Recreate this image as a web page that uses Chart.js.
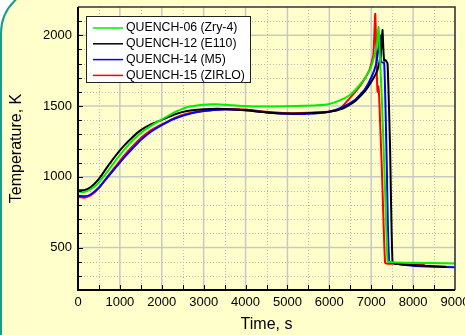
<!DOCTYPE html>
<html>
<head>
<meta charset="utf-8">
<script src="https://cdn.jsdelivr.net/npm/chart.js@4.4.0/dist/chart.umd.min.js"></script>
<style>
  html, body { margin: 0; padding: 0; width: 465px; height: 335px; overflow: hidden; background: #fff; }
  #frame { position: absolute; left: 0; top: -13px; width: 560px; height: 420px; box-sizing: border-box;
           border: 2px solid #1a9c8c; border-radius: 46px; background: #ffffcc; }
  #wrap { position: absolute; left: 0; top: 0; width: 475px; height: 335px; }
</style>
</head>
<body>
<div id="frame"></div>
<div id="wrap"><canvas id="chart" width="475" height="335"></canvas></div>
<script>
// axis ticks
var timeTicks = [0, 1000, 2000, 3000, 4000, 5000, 6000, 7000, 8000, 9000];
var tempTicks = [500, 1000, 1500, 2000];

// QUENCH-06 (Zry-4)
var q06Time = [0, 150, 300, 500, 700, 900, 1100, 1300, 1500, 1750, 2000, 2300, 2600, 3000, 3300, 3700, 4200, 4700, 5200, 5700, 6000, 6250, 6500, 6700, 6900, 7000, 7080, 7140, 7175, 7200, 7215, 7250, 7320, 7390, 7450, 7600, 8000, 8500, 9000];
var q06Temp = [895, 893, 912, 960, 1035, 1115, 1190, 1255, 1310, 1362, 1405, 1455, 1492, 1510, 1512, 1505, 1497, 1497, 1500, 1505, 1515, 1540, 1580, 1640, 1720, 1780, 1860, 1950, 2058, 1900, 1800, 1580, 1000, 400, 398, 394, 392, 390, 388];

// QUENCH-12 (E110)
var q12Time = [0, 150, 300, 500, 700, 900, 1100, 1300, 1500, 1750, 2000, 2300, 2600, 3000, 3500, 4000, 4500, 5000, 5500, 6000, 6300, 6600, 6850, 7050, 7150, 7220, 7250, 7270, 7290, 7310, 7340, 7390, 7450, 7508, 7600, 8000, 8500, 8800];
var q12Temp = [905, 905, 925, 985, 1070, 1150, 1220, 1280, 1330, 1372, 1402, 1440, 1465, 1478, 1480, 1470, 1455, 1448, 1450, 1460, 1480, 1530, 1605, 1695, 1755, 1850, 1950, 2037, 1900, 1820, 1825, 1800, 1200, 400, 385, 375, 368, 365];

// QUENCH-14 (M5)
var q14Time = [0, 150, 300, 500, 700, 900, 1100, 1300, 1500, 1750, 2000, 2300, 2600, 3000, 3500, 4000, 4500, 5000, 5500, 6000, 6300, 6600, 6850, 7000, 7111, 7170, 7206, 7230, 7310, 7370, 7430, 7600, 8000, 8500, 9000];
var q14Temp = [868, 862, 875, 925, 995, 1065, 1135, 1200, 1260, 1320, 1365, 1410, 1440, 1465, 1475, 1470, 1455, 1445, 1445, 1460, 1490, 1540, 1620, 1700, 1790, 1900, 2000, 1810, 1805, 1100, 400, 385, 372, 365, 360];

// QUENCH-15 (ZIRLO)
var q15Time = [0, 150, 300, 500, 700, 900, 1100, 1300, 1500, 1750, 2000, 2300, 2600, 3000, 3500, 4000, 4500, 5000, 5500, 6000, 6250, 6500, 6750, 6950, 7050, 7095, 7120, 7140, 7155, 7170, 7190, 7260, 7330, 7400, 7500, 8000, 8280];
var q15Temp = [858, 852, 868, 920, 1000, 1075, 1150, 1215, 1275, 1330, 1370, 1415, 1445, 1465, 1478, 1475, 1460, 1450, 1452, 1462, 1480, 1560, 1650, 1750, 1860, 2153, 1900, 1660, 1600, 1640, 1560, 1000, 395, 385, 385, 380, 375];

var seriesNames = ['QUENCH-06 (Zry-4)', 'QUENCH-12 (E110)', 'QUENCH-14 (M5)', 'QUENCH-15 (ZIRLO)'];
var seriesColors = ['#00ee00', '#000000', '#0000ff', '#ff0000'];

function toPoints(xs, ys) {
    return xs.map(function(t, i) { return { x: t, y: ys[i] }; });
}

Chart.defaults.font.family = "'Liberation Sans', Arial, sans-serif";
Chart.defaults.color = '#000';

// grid lines: dotted minor, solid major
var gridPlugin = {
    id: 'gridLines',
    beforeDatasetsDraw: function(chart) {
        var ctx = chart.ctx, a = chart.chartArea, x = chart.scales.x, y = chart.scales.y;
        ctx.save();
        ctx.lineWidth = 1;
        ctx.strokeStyle = '#b8b8b8';
        ctx.setLineDash([1, 2]);
        for (var v = 500; v < 9000; v += 1000) {
            var px = Math.round(x.getPixelForValue(v)) + 0.5;
            ctx.beginPath(); ctx.moveTo(px, a.top); ctx.lineTo(px, a.bottom); ctx.stroke();
        }
        for (var w = 300; w < 2200; w += 100) {
            if (w % 500 === 0) continue;
            var py = Math.round(y.getPixelForValue(w)) + 0.5;
            ctx.beginPath(); ctx.moveTo(a.left, py); ctx.lineTo(a.right, py); ctx.stroke();
        }
        ctx.setLineDash([]);
        ctx.strokeStyle = '#c8c8c8';
        ctx.lineWidth = 1.5;
        timeTicks.forEach(function(v) {
            var px = x.getPixelForValue(v);
            ctx.beginPath(); ctx.moveTo(px, a.top); ctx.lineTo(px, a.bottom); ctx.stroke();
        });
        tempTicks.forEach(function(v) {
            var py = y.getPixelForValue(v);
            ctx.beginPath(); ctx.moveTo(a.left, py); ctx.lineTo(a.right, py); ctx.stroke();
        });
        ctx.restore();
    },
    afterDatasetsDraw: function(chart) {
        var ctx = chart.ctx, a = chart.chartArea, x = chart.scales.x, y = chart.scales.y;
        ctx.save();
        // top / right border
        ctx.strokeStyle = '#333';
        ctx.lineWidth = 1.5;
        ctx.beginPath(); ctx.moveTo(a.left, a.top); ctx.lineTo(a.right, a.top); ctx.lineTo(a.right, a.bottom); ctx.stroke();
        // inward ticks
        ctx.strokeStyle = '#000';
        ctx.lineWidth = 1;
        for (var v = 500; v < 9000; v += 500) {
            var px = Math.round(x.getPixelForValue(v)) + 0.5;
            ctx.beginPath(); ctx.moveTo(px, a.bottom); ctx.lineTo(px, a.bottom - 5); ctx.stroke();
        }
        for (var w = 300; w < 2200; w += 100) {
            var py = Math.round(y.getPixelForValue(w)) + 0.5;
            ctx.beginPath(); ctx.moveTo(a.left, py); ctx.lineTo(a.left + (w % 500 === 0 ? 5 : 4), py); ctx.stroke();
        }
        // left / bottom axes
        ctx.lineWidth = 2;
        ctx.beginPath(); ctx.moveTo(a.left, a.top); ctx.lineTo(a.left, a.bottom); ctx.lineTo(a.right, a.bottom); ctx.stroke();
        ctx.restore();
    }
};

// boxed legend inside plot area
var boxLegend = {
    id: 'boxLegend',
    afterDraw: function(chart) {
        var ctx = chart.ctx, a = chart.chartArea;
        var bx = a.left + 8, by = a.top + 9;
        ctx.save();
        ctx.fillStyle = '#fff';
        ctx.fillRect(bx, by, 165, 67);
        ctx.strokeStyle = '#222';
        ctx.lineWidth = 1;
        ctx.strokeRect(bx + 0.5, by + 0.5, 164, 66);
        ctx.font = "12.3px 'Liberation Sans', Arial, sans-serif";
        ctx.textBaseline = 'middle';
        chart.data.datasets.forEach(function(ds, i) {
            var ly = by + 12 + i * 15.8;
            ctx.strokeStyle = ds.borderColor;
            ctx.lineWidth = 1.5;
            ctx.beginPath(); ctx.moveTo(bx + 7, ly); ctx.lineTo(bx + 37, ly); ctx.stroke();
            ctx.fillStyle = '#000';
            ctx.fillText(ds.label, bx + 40, ly);
        });
        ctx.restore();
    }
};

function plainTick(v) { return String(v); }

var ctx = document.getElementById('chart').getContext('2d');
var chart = new Chart(ctx, {
    type: 'line',
    data: {
        datasets: [
            { label: seriesNames[0], data: toPoints(q06Time, q06Temp), borderColor: seriesColors[0] },
            { label: seriesNames[1], data: toPoints(q12Time, q12Temp), borderColor: seriesColors[1] },
            { label: seriesNames[2], data: toPoints(q14Time, q14Temp), borderColor: seriesColors[2] },
            { label: seriesNames[3], data: toPoints(q15Time, q15Temp), borderColor: seriesColors[3] }
        ]
    },
    options: {
        responsive: false,
        animation: false,
        devicePixelRatio: 1,
        layout: { padding: { left: 0, top: 7, right: 20, bottom: 0 } },
        elements: {
            point: { radius: 0 },
            line: { borderWidth: 2, tension: 0.15, fill: false }
        },
        plugins: { legend: { display: false }, tooltip: { enabled: false } },
        scales: {
            x: {
                type: 'linear',
                min: 0,
                max: 9000,
                afterBuildTicks: function(s) { s.ticks = timeTicks.map(function(v) { return { value: v }; }); },
                afterFit: function(s) { s.height = 45; s.paddingLeft = 0; s.paddingRight = 0; },
                grid: { display: false, drawTicks: false },
                border: { display: false },
                ticks: { padding: 5, font: { size: 13 }, color: '#000', maxRotation: 0, callback: plainTick },
                title: { display: true, text: 'Time, s', font: { size: 16 }, color: '#000', padding: { top: 0, bottom: 1 } }
            },
            y: {
                type: 'linear',
                min: 200,
                max: 2200,
                afterBuildTicks: function(s) { s.ticks = tempTicks.map(function(v) { return { value: v }; }); },
                afterFit: function(s) { s.width = 78; s.paddingTop = 0; s.paddingBottom = 0; },
                grid: { display: false, drawTicks: false },
                border: { display: false },
                ticks: { padding: 6, font: { size: 13 }, color: '#000', callback: plainTick },
                title: { display: true, text: 'Temperature, K', font: { size: 16 }, color: '#000', padding: { top: 7, bottom: 0 } }
            }
        }
    },
    plugins: [gridPlugin, boxLegend]
});
</script>
</body>
</html>
